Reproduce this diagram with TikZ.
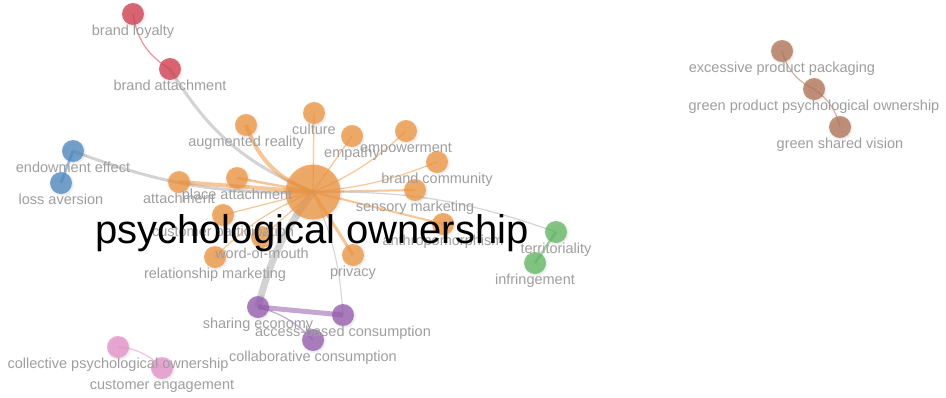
\documentclass[tikz,border=0pt]{standalone}
\usepackage{fontspec}
\setmainfont{Liberation Sans}
\usetikzlibrary{backgrounds, shadows.blur}

\definecolor{clOrange}{RGB}{240,150,65}
\definecolor{clRed}{RGB}{212,62,78}
\definecolor{clBlue}{RGB}{78,136,194}
\definecolor{clGreen}{RGB}{98,184,98}
\definecolor{clPurple}{RGB}{150,92,175}
\definecolor{clPink}{RGB}{232,146,204}
\definecolor{clBrown}{RGB}{178,116,86}
\definecolor{clLink}{RGB}{175,175,175}
\definecolor{clText}{RGB}{158,158,158}

\tikzset{
  kw/.style={circle, inner sep=0pt, minimum size=22pt, fill opacity=0.76,
    blur shadow={shadow xshift=1pt, shadow yshift=-1.2pt, shadow blur steps=4, shadow opacity=16}},
  hub/.style={kw, minimum size=55pt},
  lbl/.style={anchor=base, inner sep=0pt, text=clText, font=\fontsize{14.5}{16}\selectfont},
  lnk/.style={draw opacity=0.55},
}

\begin{document}
\begin{tikzpicture}[line cap=round,line join=round,x=1pt,y=-1pt]
\useasboundingbox (0,0) rectangle (946,397);

% keywords
\node[hub, fill=clOrange] (po) at (313,192) {};

\node[kw, fill=clRed] (brlo) at (133,14) {};
\node[kw, fill=clRed] (brat) at (170,69) {};

\node[kw, fill=clBlue] (endo) at (73,151) {};
\node[kw, fill=clBlue] (loss) at (61,183) {};

\node[kw, fill=clOrange] (augr) at (246,125) {};
\node[kw, fill=clOrange] (cult) at (314,113) {};
\node[kw, fill=clOrange] (empa) at (352,136) {};
\node[kw, fill=clOrange] (empo) at (406,131) {};
\node[kw, fill=clOrange] (brco) at (437,162) {};
\node[kw, fill=clOrange] (senm) at (415,190) {};
\node[kw, fill=clOrange] (anth) at (443,224) {};
\node[kw, fill=clOrange] (atta) at (179,182) {};
\node[kw, fill=clOrange] (plat) at (237,178) {};
\node[kw, fill=clOrange] (cupa) at (223,215) {};
\node[kw, fill=clOrange] (wom) at (262,237) {};
\node[kw, fill=clOrange] (relm) at (215,257) {};
\node[kw, fill=clOrange] (priv) at (353,255) {};

\node[kw, fill=clGreen] (terr) at (556,232) {};
\node[kw, fill=clGreen] (infr) at (535,263) {};

\node[kw, fill=clPurple] (shec) at (258,307) {};
\node[kw, fill=clPurple] (acbc) at (343,315) {};
\node[kw, fill=clPurple] (coco) at (313,340) {};

\node[kw, fill=clPink] (cpo) at (118,347) {};
\node[kw, fill=clPink] (cuen) at (162,368) {};

\node[kw, fill=clBrown] (expp) at (782,51) {};
\node[kw, fill=clBrown] (gpo) at (814,89) {};
\node[kw, fill=clBrown] (gsv) at (840,127) {};

% links
\begin{scope}[on background layer]
\draw[lnk, clRed, line width=1.2pt] (brlo.center) to[bend right=25] (brat.center);
\draw[lnk, clLink, line width=3pt] (brat.center) to[bend right=18] (po.center);
\draw[lnk, clBlue, line width=2.5pt] (endo.center) -- (loss.center);
\draw[lnk, clLink, line width=3pt] (endo.center) to[bend right=11] (po.center);

\draw[lnk, clOrange, line width=4pt] (po.center) to[bend left=25] (augr.center);
\draw[lnk, clOrange, line width=1.2pt] (po.center) -- (cult.center);
\draw[lnk, clOrange, line width=1.2pt] (po.center) -- (empa.center);
\draw[lnk, clOrange, line width=1.2pt] (po.center) to[bend right=10] (empo.center);
\draw[lnk, clOrange, line width=1.2pt] (po.center) to[bend right=8] (brco.center);
\draw[lnk, clOrange, line width=2pt] (po.center) -- (senm.center);
\draw[lnk, clOrange, line width=2pt] (po.center) -- (anth.center);
\draw[lnk, clOrange, line width=4pt] (po.center) -- (atta.center);
\draw[lnk, clOrange, line width=2.5pt] (po.center) -- (plat.center);
\draw[lnk, clOrange, line width=1.2pt] (po.center) -- (cupa.center);
\draw[lnk, clOrange, line width=1.2pt] (po.center) -- (wom.center);
\draw[lnk, clOrange, line width=1.2pt] (po.center) to[bend right=11] (relm.center);
\draw[lnk, clOrange, line width=3pt] (po.center) -- (priv.center);

\draw[lnk, clLink, line width=1.2pt] (po.center) to[bend left=10] (terr.center);
\draw[lnk, clGreen, line width=2.5pt] (terr.center) -- (infr.center);

\draw[lnk, clLink, line width=7pt] (po.center) to[bend right=11] (shec.center);
\draw[lnk, clLink, line width=1pt] (po.center) to[bend left=10] (acbc.center);
\draw[lnk, clPurple, line width=5pt] (shec.center) -- (acbc.center);
\draw[lnk, clPurple, line width=1.2pt] (shec.center) to[bend left=15] (coco.center);

\draw[lnk, clPink, line width=1.2pt] (cpo.center) to[bend left=20] (cuen.center);

\draw[lnk, clBrown, line width=1.2pt] (expp.center) to[bend right=24] (gpo.center);
\draw[lnk, clBrown, line width=1.2pt] (gpo.center) to[bend left=20] (gsv.center);
\end{scope}

% labels
\node[lbl] (brlo-l) at ([yshift=-21pt]brlo.center) {brand loyalty};
\node[lbl] (brat-l) at ([yshift=-21pt]brat.center) {brand attachment};
\node[lbl] (endo-l) at ([yshift=-21pt]endo.center) {endowment effect};
\node[lbl] (loss-l) at ([yshift=-21pt]loss.center) {loss aversion};
\node[lbl] (augr-l) at ([yshift=-21pt]augr.center) {augmented reality};
\node[lbl] (cult-l) at ([yshift=-21pt]cult.center) {culture};
\node[lbl] (empa-l) at ([yshift=-21pt]empa.center) {empathy};
\node[lbl] (empo-l) at ([yshift=-21pt]empo.center) {empowerment};
\node[lbl] (brco-l) at ([yshift=-21pt]brco.center) {brand community};
\node[lbl] (senm-l) at ([yshift=-21pt]senm.center) {sensory marketing};
\node[lbl] (anth-l) at ([yshift=-21pt]anth.center) {anthropomorphism};
\node[lbl] (atta-l) at ([yshift=-21pt]atta.center) {attachment};
\node[lbl] (plat-l) at ([yshift=-21pt]plat.center) {place attachment};
\node[lbl] (cupa-l) at ([yshift=-21pt]cupa.center) {customer participation};
\node[lbl] (wom-l) at ([yshift=-21pt]wom.center) {word-of-mouth};
\node[lbl] (relm-l) at ([yshift=-21pt]relm.center) {relationship marketing};
\node[lbl] (priv-l) at ([yshift=-21pt]priv.center) {privacy};
\node[lbl] (terr-l) at ([yshift=-21pt]terr.center) {territoriality};
\node[lbl] (infr-l) at ([yshift=-21pt]infr.center) {infringement};
\node[lbl] (shec-l) at ([yshift=-21pt]shec.center) {sharing economy};
\node[lbl] (acbc-l) at ([yshift=-21pt]acbc.center) {access-based consumption};
\node[lbl] (coco-l) at ([yshift=-21pt]coco.center) {collaborative consumption};
\node[lbl] (cpo-l) at ([yshift=-21pt]cpo.center) {collective psychological ownership};
\node[lbl] (cuen-l) at ([yshift=-21pt]cuen.center) {customer engagement};
\node[lbl] (expp-l) at ([yshift=-21pt]expp.center) {excessive product packaging};
\node[lbl] (gpo-l) at ([yshift=-21pt]gpo.center) {green product psychological ownership};
\node[lbl] (gsv-l) at ([yshift=-21pt]gsv.center) {green shared vision};

\node[anchor=base, inner sep=0pt, font=\fontsize{40}{44}\selectfont] (po-l) at (312,243) {psychological ownership};

\end{tikzpicture}
\end{document}
